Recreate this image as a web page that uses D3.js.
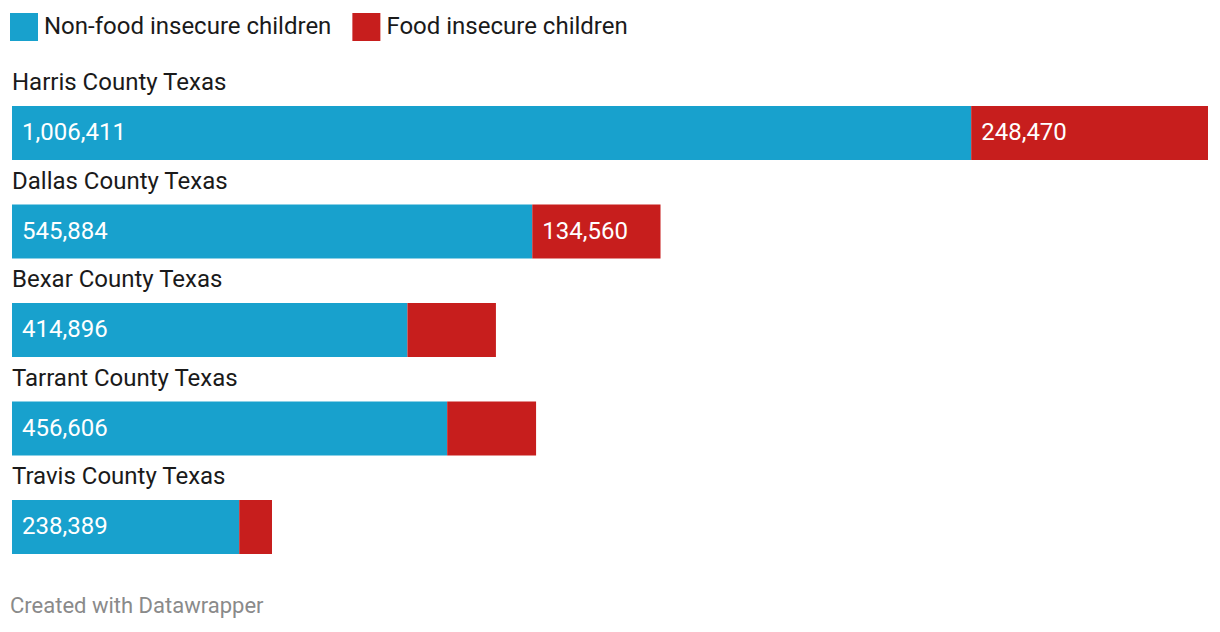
<!DOCTYPE html>
<html>
<head>
<meta charset="utf-8">
<script src="https://cdn.jsdelivr.net/npm/d3@7"></script>
<style>
  html, body { margin: 0; padding: 0; background: #fff; }
  svg { display: block; font-family: Roboto, "Noto Sans", sans-serif; }
</style>
</head>
<body>
<svg id="chart" width="1220" height="632"></svg>
<script>
const categories = ["Harris County Texas", "Dallas County Texas", "Bexar County Texas", "Tarrant County Texas", "Travis County Texas"];
const seriesNames = ["Non-food insecure children", "Food insecure children"];
const nonFood = [1006411, 545884, 414896, 456606, 238389];
const foodInsecure = [248470, 134560, 92850, 93270, 34400];
const colors = ["#18a1cd", "#c71e1d"];
const footer = "Created with Datawrapper";

const svg = d3.select("#chart");
const fmt = d3.format(",");

const rows = categories.map((c, i) => ({ cat: c, vals: [nonFood[i], foodInsecure[i]] }));
const maxTotal = d3.max(rows, r => r.vals[0] + r.vals[1]);

const x = d3.scaleLinear().domain([0, maxTotal]).range([12, 1208]);
const y = d3.scaleBand().domain(categories).range([62, 554.5]).paddingInner(0).paddingOuter(0);
const labelH = 44, barH = 54;

// legend
const legend = svg.append("g");
let lx = 10;
seriesNames.forEach((name, i) => {
  const g = legend.append("g");
  g.append("rect").attr("x", lx).attr("y", 13).attr("width", 28).attr("height", 28).attr("fill", colors[i]);
  const t = g.append("text").attr("x", lx + 34).attr("y", 34).attr("font-size", 24).attr("fill", "#1a1a1a").text(name);
  lx += 34 + t.node().getComputedTextLength() + 21;
});

// rows
const rowG = svg.selectAll("g.row").data(rows).join("g").attr("class", "row");

rowG.append("text")
  .attr("x", 12)
  .attr("y", d => y(d.cat) + labelH - 16)
  .attr("font-size", 24)
  .attr("fill", "#1a1a1a")
  .text(d => d.cat);

rowG.each(function(d) {
  const g = d3.select(this);
  let cum = 0;
  d.vals.forEach((v, i) => {
    const x0 = x(cum), x1 = x(cum + v);
    cum += v;
    const by = y(d.cat) + labelH;
    g.append("rect")
      .attr("x", x0).attr("y", by)
      .attr("width", x1 - x0).attr("height", barH)
      .attr("fill", colors[i]);
    if (x1 - x0 > 100) {
      g.append("text")
        .attr("x", x0 + 10)
        .attr("y", by + barH / 2)
        .attr("dy", "0.3em")
        .attr("font-size", 24)
        .attr("fill", "#fff")
        .text(fmt(v));
    }
  });
});

svg.append("text")
  .attr("x", 10).attr("y", 613)
  .attr("font-size", 22)
  .attr("fill", "#8a8a8a")
  .text(footer);
</script>
</body>
</html>
